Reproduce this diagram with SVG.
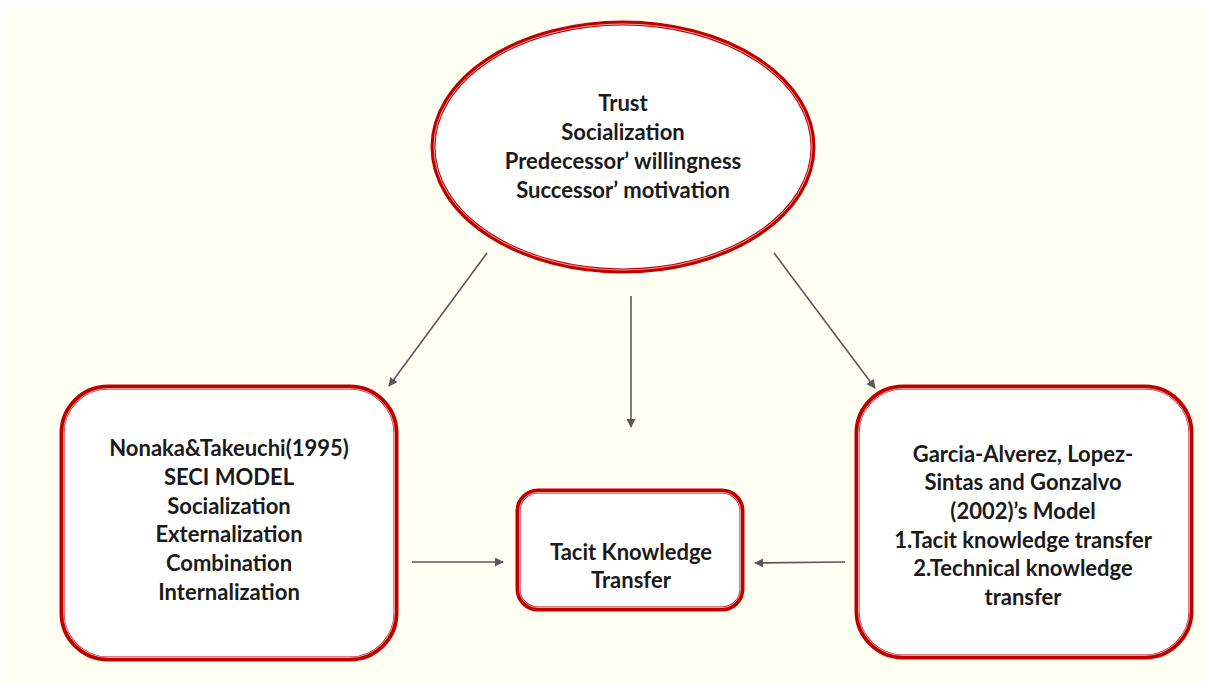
<svg xmlns="http://www.w3.org/2000/svg" width="1206" height="683" viewBox="0 0 1206 683">
  <defs>
    <marker id="arrow" viewBox="0 0 10 10" refX="9" refY="5" markerWidth="9" markerHeight="9" markerUnits="userSpaceOnUse" orient="auto">
      <path d="M0,0 L10,5 L0,10 z" fill="#595959"/>
    </marker>
    <style>
      .outer { fill: #ffffff; stroke: #c00000; stroke-width: 5; }
      .inner { fill: none; stroke: #f2b6b6; stroke-width: 0.9; }
      .label { font-family: Lato, "Liberation Sans", sans-serif; font-weight: bold; font-size: 22px; fill: #1a1a1a; text-anchor: middle; }
      .conn { stroke: #595959; stroke-width: 1.6; fill: none; marker-end: url(#arrow); }
    </style>
  </defs>

  <!-- page background -->
  <rect x="0" y="0" width="1206" height="683" fill="#ffffff"/>
  <rect x="5" y="7" width="1201" height="676" fill="#fffff2"/>

  <!-- factors ellipse -->
  <g id="factors">
    <ellipse class="outer" cx="623" cy="147" rx="190" ry="124"/>
    <ellipse class="inner" cx="623" cy="147" rx="189" ry="123"/>
    <text class="label" x="623" y="111">Trust</text>
    <text class="label" x="623" y="140">Socialization</text>
    <text class="label" x="623" y="169">Predecessor’ willingness</text>
    <text class="label" x="623" y="198">Successor’ motivation</text>
  </g>

  <!-- SECI model box -->
  <g id="seci">
    <rect class="outer" x="62" y="387" width="334" height="272" rx="46" ry="46"/>
    <rect class="inner" x="63.5" y="388.5" width="331" height="269" rx="44.5" ry="44.5"/>
    <text class="label" x="229" y="456">Nonaka&amp;Takeuchi(1995)</text>
    <text class="label" x="229" y="485">SECI MODEL</text>
    <text class="label" x="229" y="514">Socialization</text>
    <text class="label" x="229" y="542">Externalization</text>
    <text class="label" x="229" y="571">Combination</text>
    <text class="label" x="229" y="600">Internalization</text>
  </g>

  <!-- central outcome box -->
  <g id="tacit">
    <rect class="outer" x="518" y="491" width="224" height="118" rx="20" ry="20"/>
    <rect class="inner" x="519.5" y="492.5" width="221" height="115" rx="18.5" ry="18.5"/>
    <text class="label" x="631" y="560">Tacit Knowledge</text>
    <text class="label" x="631" y="588">Transfer</text>
  </g>

  <!-- Garcia-Alverez model box -->
  <g id="garcia">
    <rect class="outer" x="857" y="387" width="334" height="270" rx="46" ry="46"/>
    <rect class="inner" x="858.5" y="388.5" width="331" height="267" rx="44.5" ry="44.5"/>
    <text class="label" x="1023" y="462">Garcia-Alverez, Lopez-</text>
    <text class="label" x="1023" y="490">Sintas and Gonzalvo</text>
    <text class="label" x="1023" y="519">(2002)’s Model</text>
    <text class="label" x="1023" y="548">1.Tacit knowledge transfer</text>
    <text class="label" x="1023" y="576">2.Technical knowledge</text>
    <text class="label" x="1023" y="605">transfer</text>
  </g>

  <!-- connectors -->
  <g id="connectors">
    <line class="conn" x1="487" y1="253" x2="389" y2="386"/>
    <line class="conn" x1="631" y1="296" x2="631" y2="427"/>
    <line class="conn" x1="774" y1="253" x2="875" y2="388"/>
    <line class="conn" x1="412" y1="562" x2="503" y2="562"/>
    <line class="conn" x1="845" y1="562" x2="755" y2="563"/>
  </g>
</svg>
